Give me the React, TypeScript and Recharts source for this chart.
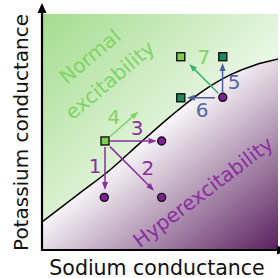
import React from 'react';
import { ComposedChart, XAxis, YAxis, Area, Scatter, ReferenceLine } from 'recharts';

// Boundary curve between the two regions (data units 0..10)
const curveX = [0, 1.61, 2.88, 4.15, 5.42, 6.69, 7.97, 9.03, 10];
const curveY = [1.19, 2.42, 3.39, 4.53, 5.64, 6.65, 7.42, 7.84, 8.09];
const plotTop = 10;

// Markers
const lightSquares = [
  { x: 2.67, y: 4.62 },
  { x: 5.88, y: 8.19 },
];
const darkSquares = [
  { x: 7.66, y: 8.19 },
  { x: 5.88, y: 6.45 },
];
const circles = [
  { x: 2.64, y: 2.23 },
  { x: 5.07, y: 4.62 },
  { x: 5.07, y: 2.23 },
  { x: 7.66, y: 6.47 },
];

// Arrows
const arrowLabels = ['1', '2', '3', '4', '5', '6', '7'];
const arrowFromX = [2.67, 2.88, 2.88, 2.88, 7.65, 7.33, 7.47];
const arrowFromY = [4.36, 4.38, 4.62, 4.8, 6.69, 6.45, 6.64];
const arrowToX = [2.67, 4.75, 4.86, 4.08, 7.65, 6.14, 6.24];
const arrowToY = [2.54, 2.51, 4.62, 5.86, 7.92, 6.45, 7.88];
const numberX = [2.25, 4.49, 4.03, 3.05, 8.14, 6.78, 6.86];
const numberY = [3.56, 3.47, 5.17, 5.64, 7.12, 5.93, 8.18];

// Region labels
const regionText = [['Normal', 'excitability'], ['Hyperexcitability']];
const regionX = [2.45, 6.82];
const regionY = [7.71, 2.46];

const xTitle = 'Sodium conductance';
const yTitle = 'Potassium conductance';

const FONT = '"DejaVu Sans", Verdana, sans-serif';
const COL = {
  purple: '#8b2c9f',
  circle: '#7e1f99',
  lightGreen: '#7ccf52',
  textGreen: '#80d462',
  darkGreen: '#1c8a60',
  blue: '#4b5f9b',
  blueText: '#5568a3',
  teal: '#3db46c',
};
const arrowColor: Record<string, string> = {
  '1': COL.purple, '2': COL.purple, '3': COL.purple,
  '4': COL.textGreen, '5': COL.blue, '6': COL.blue, '7': COL.teal,
};
const numberColor: Record<string, string> = {
  '1': COL.purple, '2': COL.purple, '3': COL.purple,
  '4': COL.textGreen, '5': COL.blueText, '6': COL.blueText, '7': COL.textGreen,
};
const regionColor = [COL.textGreen, COL.purple];

const curveData = curveX.map((x, i) => ({ x, y: curveY[i], top: plotTop }));
const numberData = arrowLabels.map((t, i) => ({ x: numberX[i], y: numberY[i], t }));
const regionData = regionText.map((lines, i) => ({ x: regionX[i], y: regionY[i], lines, i }));

const arrowShape = (color: string, width: number, headLen: number, headW: number) => (props: any) => {
  const { x1, y1, x2, y2 } = props;
  const dx = x2 - x1;
  const dy = y2 - y1;
  const len = Math.hypot(dx, dy) || 1;
  const ux = dx / len;
  const uy = dy / len;
  const bx = x2 - ux * headLen;
  const by = y2 - uy * headLen;
  const px = (-uy * headW) / 2;
  const py = (ux * headW) / 2;
  return (
    <g>
      <line x1={x1} y1={y1} x2={bx + ux * 0.5} y2={by + uy * 0.5} stroke={color} strokeWidth={width} />
      <polygon points={`${x2},${y2} ${bx + px},${by + py} ${bx - px},${by - py}`} fill={color} />
    </g>
  );
};

const squareShape = (fill: string) => (p: any) => (
  <rect x={p.cx - 4} y={p.cy - 4} width={8} height={8} fill={fill} stroke="#111" strokeWidth={1.4} />
);
const circleShape = (p: any) => (
  <circle cx={p.cx} cy={p.cy} r={4} fill={COL.circle} stroke="#111" strokeWidth={1.4} />
);
const numberShape = (p: any) => {
  const t = p.payload.t;
  return (
    <text x={p.cx} y={p.cy} dy="0.36em" textAnchor="middle" fontFamily={FONT} fontSize={20} fill={numberColor[t]}>
      {t}
    </text>
  );
};
const regionShape = (p: any) => {
  const { lines, i } = p.payload;
  const angle = i === 0 ? -40 : -37;
  const spacing = 31;
  const first = -((lines.length - 1) * spacing) / 2;
  return (
    <text
      x={p.cx}
      y={p.cy}
      transform={`rotate(${angle} ${p.cx} ${p.cy})`}
      textAnchor="middle"
      fontFamily={FONT}
      fontSize={20}
      fill={regionColor[i]}
    >
      {lines.map((l: string, k: number) => (
        <tspan key={k} x={p.cx} y={p.cy + first + k * spacing} dy="0.36em">
          {l}
        </tspan>
      ))}
    </text>
  );
};

export default function App() {
  return (
    <div style={{ position: 'absolute', left: 0, top: 0 }}>
      <ComposedChart
        width={280}
        height={278}
        data={curveData}
        margin={{ top: 14, right: 2, bottom: 0, left: 0 }}
      >
        <defs>
          <linearGradient id="greenGrad" x1="0" y1="0" x2="1" y2="1">
            <stop offset="0" stopColor="#a4dc8f" />
            <stop offset="0.75" stopColor="#ffffff" />
          </linearGradient>
          <linearGradient id="purpleGrad" x1="0" y1="0" x2="1" y2="1">
            <stop offset="0.4" stopColor="#ffffff" />
            <stop offset="1" stopColor="#5a1f5e" />
          </linearGradient>
        </defs>
        <XAxis
          type="number"
          dataKey="x"
          domain={[0, 10]}
          allowDataOverflow
          tick={false}
          tickLine={false}
          axisLine={false}
          height={28}
          label={{
            content: (p: any) => (
              <text x={157} y={274.5} textAnchor="middle" fontFamily={FONT} fontSize={20.5} fill="#111">
                {xTitle}
              </text>
            ),
          }}
        />
        <YAxis
          type="number"
          dataKey="y"
          domain={[0, 10]}
          allowDataOverflow
          tick={false}
          tickLine={false}
          axisLine={false}
          width={42}
          label={{
            content: (p: any) => (
              <text
                x={28.3}
                y={132.5}
                transform="rotate(-90 28.3 132.5)"
                textAnchor="middle"
                fontFamily={FONT}
                fontSize={20}
                fill="#111"
              >
                {yTitle}
              </text>
            ),
          }}
        />
        <Area
          type="linear"
          dataKey="top"
          stroke="none"
          fill="url(#greenGrad)"
          fillOpacity={1}
          isAnimationActive={false}
          activeDot={false}
        />
        <Area
          type="monotone"
          dataKey="y"
          stroke="#000"
          strokeWidth={1.5}
          fill="url(#purpleGrad)"
          fillOpacity={1}
          isAnimationActive={false}
          activeDot={false}
        />
        {arrowLabels.map((t, i) => (
          <ReferenceLine
            key={'a' + t}
            segment={[
              { x: arrowFromX[i], y: arrowFromY[i] },
              { x: arrowToX[i], y: arrowToY[i] },
            ]}
            ifOverflow="visible"
            shape={arrowShape(arrowColor[t], 1.5, 8, 6)}
          />
        ))}
        <ReferenceLine
          segment={[{ x: 0, y: -0.04 }, { x: 0, y: 10.47 }]}
          ifOverflow="visible"
          shape={arrowShape('#000', 2.2, 10, 9)}
        />
        <ReferenceLine
          segment={[{ x: -0.04, y: 0 }, { x: 10.38, y: 0 }]}
          ifOverflow="visible"
          shape={arrowShape('#000', 2.2, 10, 9)}
        />
        <Scatter data={regionData} shape={regionShape} isAnimationActive={false} />
        <Scatter data={numberData} shape={numberShape} isAnimationActive={false} />
        <Scatter data={lightSquares} shape={squareShape(COL.lightGreen)} isAnimationActive={false} />
        <Scatter data={darkSquares} shape={squareShape(COL.darkGreen)} isAnimationActive={false} />
        <Scatter data={circles} shape={circleShape} isAnimationActive={false} />
      </ComposedChart>
    </div>
  );
}
